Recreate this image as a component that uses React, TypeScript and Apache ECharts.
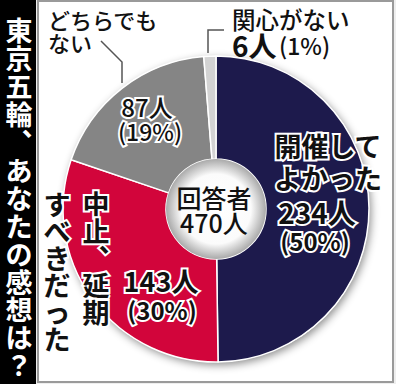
import React, { useEffect, useRef } from 'react';
import * as echarts from 'echarts';

const title = '東京五輪︑あなたの感想は？';
const categories = ['開催して\nよかった', '中止︑延期\nすべきだった', 'どちらでも\nない', '関心がない'];
const counts = [234, 143, 87, 6];
const percents = [50, 30, 19, 1];
const totalLabel = ['回答者', '470人'];
const colors = ['#1d1a4c', '#d2053b', '#858585', '#d3d3d3'];

const FONT = '"Noto Sans CJK JP", "Noto Sans", sans-serif';
const CENTER: [number, number] = [216, 209];

const vert = (s: string) => Array.from(s).join('\n');

export default function App() {
  const ref = useRef<HTMLDivElement>(null);
  useEffect(() => {
    if (!ref.current) return;
    const chart = echarts.init(ref.current, undefined, { renderer: 'svg' });
    const outlined = (text: string, x: number, y: number, size: number, extra: any = {}) => ({
      type: 'text',
      z: 100,
      silent: true,
      style: {
        text,
        x,
        y,
        fontSize: size,
        fontFamily: FONT,
        fontWeight: 'bold',
        fill: '#111',
        stroke: '#fff',
        lineWidth: 4,
        strokeFirst: true,
        align: 'center',
        verticalAlign: 'middle',
        ...extra,
      },
    });
    const [redCol1, redCol2] = categories[1].split('\n');
    const [navyL1, navyL2] = categories[0].split('\n');
    const [grayL1, grayL2] = categories[2].split('\n');
    chart.setOption({
      animation: false,
      backgroundColor: '#eeeeee',
      graphic: [
        { type: 'rect', z: -10, shape: { x: 0, y: 0, width: 36, height: 384 }, style: { fill: '#000' } },
        { type: 'rect', z: -10, shape: { x: 38, y: 1, width: 355, height: 381 }, style: { fill: '#fff', stroke: '#9a9a9a', lineWidth: 2 } },
        {
          type: 'text', z: 100,
          style: {
            text: vert(title), x: 19, y: 16, fontSize: 27, lineHeight: 27.9, fontFamily: FONT,
            fontWeight: 'bold', fill: '#fff', align: 'center', verticalAlign: 'top',
          },
        },
        // leader lines
        { type: 'polyline', z: 100, shape: { points: [[101, 41], [122, 62], [122, 83]] }, style: { stroke: '#555', lineWidth: 1.5, fill: 'none' } },
        { type: 'polyline', z: 100, shape: { points: [[224, 30], [208, 30], [208, 53]] }, style: { stroke: '#555', lineWidth: 1.5, fill: 'none' } },
        // どちらでもない
        {
          type: 'text', z: 100,
          style: { text: grayL1 + '\n' + grayL2, x: 48, y: 7, fontSize: 22, lineHeight: 23, fontFamily: FONT, fontWeight: 500, fill: '#111', align: 'left', verticalAlign: 'top' },
        },
        // 関心がない
        {
          type: 'text', z: 100,
          style: { text: categories[3], x: 232, y: 7, fontSize: 23.5, fontFamily: FONT, fontWeight: 500, fill: '#111', align: 'left', verticalAlign: 'top' },
        },
        {
          type: 'text', z: 100,
          style: { text: `${counts[3]}人`, x: 232, y: 45, fontSize: 28, fontWeight: 'bold', fontFamily: FONT, fill: '#111', align: 'left', verticalAlign: 'middle' },
        },
        {
          type: 'text', z: 100,
          style: { text: `(${percents[3]}%)`, x: 279, y: 45, fontSize: 23, fontWeight: 500, fontFamily: FONT, fill: '#111', align: 'left', verticalAlign: 'middle' },
        },
        // navy labels
        outlined(navyL1, 328, 145, 27),
        outlined(navyL2, 328, 177, 27),
        outlined(`${counts[0]}人`, 317, 212, 28),
        outlined(`(${percents[0]}%)`, 315, 240, 24),
        // red labels
        outlined(`${counts[1]}人`, 161, 280, 27),
        outlined(`(${percents[1]}%)`, 162, 309, 24),
        outlined(vert(redCol1), 96, 190, 27, { verticalAlign: 'top', lineHeight: 27 }),
        outlined(vert(redCol2), 57, 190, 27, { verticalAlign: 'top', lineHeight: 27 }),
        // gray labels
        outlined(`${counts[2]}人`, 147, 106, 24, { fontWeight: 500 }),
        outlined(`(${percents[2]}%)`, 150, 131, 23, { fontWeight: 500 }),
        // center
        {
          type: 'text', z: 100,
          style: {
            text: totalLabel.join('\n'), x: 214, y: 209, fontSize: 25, lineHeight: 25, fontFamily: FONT, fontWeight: 500,
            fill: '#111', align: 'center', verticalAlign: 'middle',
          },
        },
      ],
      series: [
        {
          type: 'pie', center: CENTER, radius: [0, 153], silent: true, z: 1,
          label: { show: false }, labelLine: { show: false },
          data: [{ value: 1, itemStyle: { color: '#fff', shadowBlur: 8, shadowColor: 'rgba(0,0,0,0.45)', shadowOffsetX: 2, shadowOffsetY: 3 } }],
        },
        {
          type: 'pie', center: CENTER, radius: [50, 153], startAngle: 90, clockwise: true, silent: true, z: 2,
          label: { show: false }, labelLine: { show: false },
          itemStyle: { borderColor: '#fff', borderWidth: 1.5 },
          data: counts.map((v, i) => ({ name: categories[i], value: v, itemStyle: { color: colors[i] } })),
        },
        {
          type: 'pie', center: CENTER, radius: [0, 50], silent: true, z: 3,
          label: { show: false }, labelLine: { show: false },
          data: [{
            value: 1,
            itemStyle: {
              color: new echarts.graphic.RadialGradient(0.5, 0.5, 0.5, [
                { offset: 0, color: '#ffffff' },
                { offset: 0.7, color: '#fbfbfb' },
                { offset: 1, color: '#a9a9a9' },
              ]),
            },
          }],
        },
      ],
    });
    return () => chart.dispose();
  }, []);
  return <div ref={ref} style={{ position: 'fixed', left: 0, top: 0, width: 396, height: 384 }} />;
}
